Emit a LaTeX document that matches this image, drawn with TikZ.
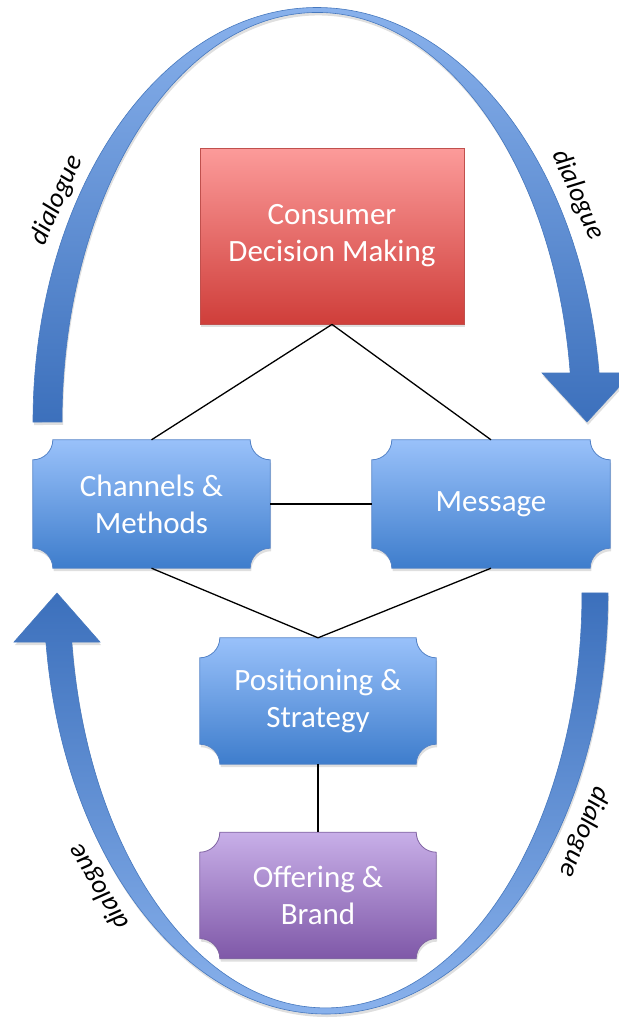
\documentclass[tikz,border=0pt]{standalone}
\usepackage{fontspec}
\setmainfont{Carlito}
\usetikzlibrary{positioning,calc,backgrounds,shadows}

\definecolor{boxtop}{RGB}{153,193,250}
\definecolor{boxbot}{RGB}{62,125,204}
\definecolor{boxedge}{RGB}{85,132,200}
\definecolor{redtop}{RGB}{252,155,154}
\definecolor{redbot}{RGB}{207,62,58}
\definecolor{rededge}{RGB}{192,80,77}
\definecolor{purtop}{RGB}{200,175,232}
\definecolor{purbot}{RGB}{127,88,168}
\definecolor{puredge}{RGB}{128,100,162}
\definecolor{arclight}{RGB}{140,180,238}
\definecolor{arcdark}{RGB}{60,112,188}
\definecolor{arcedge}{RGB}{70,120,190}

% plaque outline (concave corners) around a named node
\newcommand\plaque[2]{%
  \path[#2] ($(#1.north west)+(0,-20)$) arc[start angle=270, end angle=360, radius=20]
    -- ($(#1.north east)+(-20,0)$) arc[start angle=180, end angle=270, radius=20]
    -- ($(#1.south east)+(0,20)$) arc[start angle=90, end angle=180, radius=20]
    -- ($(#1.south west)+(20,0)$) arc[start angle=0, end angle=90, radius=20]
    -- cycle;}

\begin{document}
\begin{tikzpicture}[x=1pt, y=1pt,
  boxtext/.style={shape=rectangle, text=white, align=center, inner sep=0pt,
    font={\fontsize{31}{37}\selectfont}},
  shade/.style={drop shadow={shadow xshift=1pt, shadow yshift=-3pt, opacity=0.25}},
  bluefill/.style={top color=boxtop, bottom color=boxbot, draw=boxedge, line width=0.8pt, shade},
  purplefill/.style={top color=purtop, bottom color=purbot, draw=puredge, line width=0.8pt, shade},
  band/.style={draw=arcedge, line width=0.6pt, shade},
  link/.style={draw=black, line width=1.3pt},
  dlg/.style={font={\fontsize{27}{32}\selectfont\itshape}, text=black, inner sep=0pt}]
\useasboundingbox (0,0) rectangle (619,-1021);

\node[boxtext, top color=redtop, bottom color=redbot, draw=rededge, line width=0.8pt, shade,
  minimum width=264, minimum height=176] (cdm) at (332,-236) {Consumer\\Decision Making};
\node[boxtext, minimum width=237, minimum height=128] (chm) at (151.5,-504) {Channels \&\\Methods};
\node[boxtext, minimum width=238, minimum height=128] (msg) at (491,-504) {Message};
\node[boxtext, minimum width=236, minimum height=126] (pos) at (318,-701) {Positioning \&\\Strategy};
\node[boxtext, minimum width=236, minimum height=126, below=68 of pos] (off) {Offering \&\\Brand};

\begin{scope}[on background layer]
\plaque{chm}{bluefill}
\plaque{msg}{bluefill}
\plaque{pos}{bluefill}
\plaque{off}{purplefill}
% upper dialogue arrow
\path[band, top color=arclight, bottom color=arcdark]
  (33,-422) arc[start angle=180, end angle=6.8, x radius=284, y radius=414.5]
  -- (632,-373) -- (587,-422) -- (542,-373) -- (570.2,-373)
  arc[start angle=6.87, end angle=180, x radius=255, y radius=409.5] -- cycle;
% lower dialogue arrow
\path[band, top color=arcdark, bottom color=arclight]
  (608,-593) arc[start angle=0, end angle=-173.3, x radius=282, y radius=421]
  -- (14,-642) -- (57,-593) -- (100,-642) -- (71.8,-642)
  arc[start angle=-173.2, end angle=0, x radius=256, y radius=415] -- cycle;
\end{scope}

\draw[link] (cdm.south) -- (chm.north);
\draw[link] (cdm.south) -- (msg.north);
\draw[link] (chm) -- (msg);
\draw[link] (chm.south) -- (pos.north);
\draw[link] (msg.south) -- (pos.north);
\draw[link] (pos) -- (off);

\node[dlg, rotate=66] (dtl) at (57,-200) {dialogue};
\node[dlg, rotate=-66] (dtr) at (578,-195) {dialogue};
\node[dlg, rotate=-112] (dbr) at (584,-832) {dialogue};
\node[dlg, rotate=121] (dbl) at (99,-887) {dialogue};
\end{tikzpicture}
\end{document}
